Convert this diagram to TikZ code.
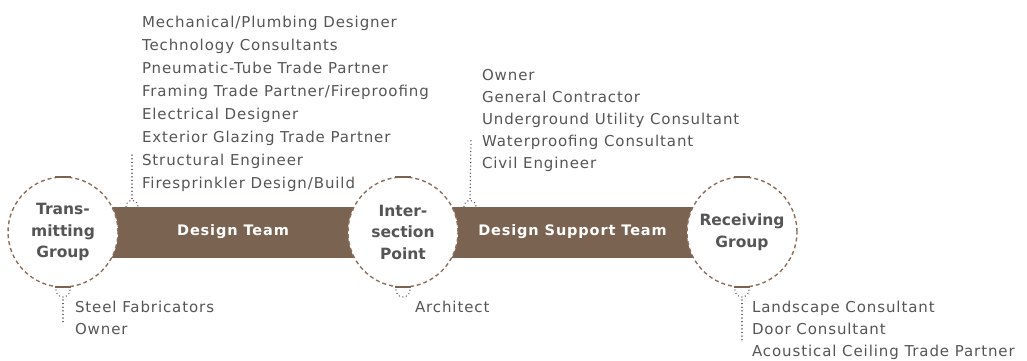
\documentclass[tikz,border=0pt]{standalone}
\usepackage{fontspec}
\newfontfamily\lblfont[LetterSpace=6]{DejaVu Sans}
\newfontfamily\ringfont{DejaVu Sans}
\usetikzlibrary{positioning}
\usetikzlibrary{backgrounds}

\definecolor{barbrown}{RGB}{123,99,82}
\definecolor{ringbrown}{RGB}{140,112,92}
\definecolor{txtgray}{RGB}{85,85,85}

\begin{document}
\begin{tikzpicture}[x=1pt,y=-1pt,
	ring/.style={circle,minimum size=110pt,inner sep=0pt,outer sep=0pt,draw=ringbrown,line width=1.4pt,dash pattern=on 4pt off 3pt,fill=white,align=center,text=txtgray,font=\ringfont\bfseries\fontsize{15.5}{21.5}\selectfont},
	bar/.style={minimum height=51pt,inner sep=0pt,outer sep=0pt,fill=barbrown,text=white,font=\lblfont\bfseries\fontsize{14.5}{16}\selectfont},
	capseg/.style={draw=barbrown,line width=2.6pt},
	dotline/.style={draw=txtgray,line width=1.5pt,line cap=round,dash pattern=on 0.01pt off 3.6pt},
	list/.style={anchor=north west,inner sep=0pt,outer sep=0pt,align=left,text=txtgray,font=\lblfont\fontsize{15}{22}\selectfont}]

	\useasboundingbox (0,0) rectangle (1027,361);

	\node [ring] at (63,232) (tg) {Trans-\\mitting\\Group};
	\node [ring] at (403,232) (ip) {Inter-\\section\\Point};
	\node [ring] at (742,232) (rg) {Receiving\\Group};

	\begin{scope}[on background layer]
		\path (tg.center) -- (ip.center) node [midway,bar,minimum width=340pt] (dt) {Design Team};
		\path (ip.center) -- (rg.center) node [midway,bar,minimum width=339pt] (dst) {Design Support Team};
	\end{scope}

	\draw[capseg] ([xshift=-8pt]tg.north) -- ([xshift=8pt]tg.north);
	\draw[capseg] ([xshift=-8pt]tg.south) -- ([xshift=8pt]tg.south);
	\draw[capseg] ([xshift=-8pt]ip.north) -- ([xshift=8pt]ip.north);
	\draw[capseg] ([xshift=-8pt]ip.south) -- ([xshift=8pt]ip.south);
	\draw[capseg] ([xshift=-8pt]rg.north) -- ([xshift=8pt]rg.north);
	\draw[capseg] ([xshift=-8pt]rg.south) -- ([xshift=8pt]rg.south);

	\node [list,font=\lblfont\fontsize{15}{23}\selectfont] at (142,16) (dt_list) {Mechanical/Plumbing Designer\\Technology Consultants\\Pneumatic-Tube Trade Partner\\Framing Trade Partner/Fireproofing\\Electrical Designer\\Exterior Glazing Trade Partner\\Structural Engineer\\Firesprinkler Design/Build};
	\node [list] at (482,69) (dst_list) {Owner\\General Contractor\\Underground Utility Consultant\\Waterproofing Consultant\\Civil Engineer};
	\node [list] at (75,301) (tg_list) {Steel Fabricators\\Owner};
	\node [list] at (415,301) (ip_list) {Architect};
	\node [list] at (752,301) (rg_list) {Landscape Consultant\\Door Consultant\\Acoustical Ceiling Trade Partner};

	\coordinate (dt_end) at (dt_list.west|-0,152);
	\coordinate (dst_end) at (dst_list.west|-0,140);

	% small domes on the bars, lines up to the lists
	\draw[dotline] ([xshift=63pt]dt.north west) arc[start angle=180,end angle=360,radius=6];
	\draw[dotline] ([xshift=69pt,yshift=8pt]dt.north west) -- ([xshift=-10pt]dt_end);
	\draw[dotline] ([xshift=61pt]dst.north west) arc[start angle=180,end angle=360,radius=6];
	\draw[dotline] ([xshift=67pt,yshift=8pt]dst.north west) -- ([xshift=-11pt]dst_end);

	% small cups under the circles, lines down to the lists
	\draw[dotline] ([xshift=-7pt,yshift=-3pt]tg.south) arc[start angle=180,end angle=0,radius=7];
	\draw[dotline] ([yshift=-13pt]tg.south) -- ([yshift=-36pt]tg.south);
	\draw[dotline] ([xshift=-7pt,yshift=-3pt]ip.south) arc[start angle=180,end angle=0,radius=7];
	\draw[dotline] ([xshift=-7pt,yshift=-3pt]rg.south) arc[start angle=180,end angle=0,radius=7];
	\draw[dotline] ([yshift=-13pt]rg.south) -- ([yshift=-53pt]rg.south);
\end{tikzpicture}
\end{document}
